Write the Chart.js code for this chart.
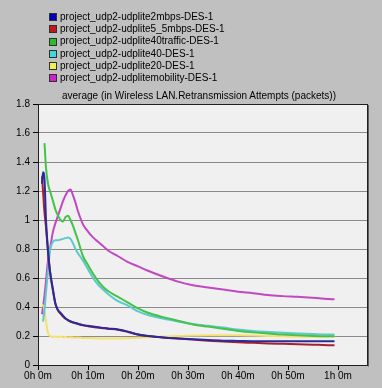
<!DOCTYPE html>
<html lang="en">
<head>
    <meta charset="UTF-8">
    <title>Retransmission Attempts</title>
    <script src="https://cdn.jsdelivr.net/npm/chart.js@4"></script>
    <style>
        body {
            margin: 0;
            background: #c0c0c0;
            font-family: "Liberation Sans", Arial, sans-serif;
        }

        .wrap {
            position: relative;
            width: 382px;
            height: 388px;
        }

        canvas {
            position: absolute;
            left: 0;
            top: 0;
        }

        .legend {
            position: absolute;
            left: 49px;
            top: 11px;
            font-size: 10px;
            line-height: 12.2px;
            color: #000;
        }

        .legend-item {
            display: flex;
            align-items: center;
            white-space: nowrap;
        }

        .legend-item i {
            display: inline-block;
            width: 6px;
            height: 6px;
            border: 1px solid #303030;
            margin-right: 3px;
        }

        .title {
            position: absolute;
            left: 0;
            width: 398px;
            top: 90px;
            text-align: center;
            font-size: 10px;
            color: #000;
        }
    </style>
</head>
<body>
    <div class="wrap">
        <canvas id="chart" width="382" height="388"></canvas>
        <div class="legend" id="legend"></div>
        <div class="title">average (in Wireless LAN.Retransmission Attempts (packets))</div>
    </div>

    <script>
        // time in minutes
        const times = [0.8, 1.0, 1.3, 1.6, 2.0, 2.4, 3.0, 3.5, 4.0, 4.5, 5.0, 5.5, 6.0, 6.5, 7.0, 7.5, 8.0, 9, 10, 11,
                       12, 13, 14, 16, 18, 20, 22, 25, 28, 31, 34, 37, 40, 43, 46, 49, 52, 55, 58, 59.3];

        const names = [
            'project_udp2-udplite2mbps-DES-1',
            'project_udp2-udplite5_5mbps-DES-1',
            'project_udp2-udplite40traffic-DES-1',
            'project_udp2-udplite40-DES-1',
            'project_udp2-udplite20-DES-1',
            'project_udp2-udplitemobility-DES-1'
        ];

        const udp2mbps = [1.25, 1.33, 1.28, 1.0, 0.79, 0.65, 0.52, 0.42, 0.38, 0.36, 0.34, 0.32, 0.31, 0.30, 0.295, 0.29, 0.285, 0.275, 0.27, 0.265,
                          0.26, 0.256, 0.252, 0.245, 0.23, 0.21, 0.2, 0.19, 0.183, 0.177, 0.172, 0.168, 0.166, 0.164, 0.163, 0.163, 0.163, 0.163, 0.163, 0.163];
        const udp5mbps = [1.3, 1.2, 1.05, 0.95, 0.78, 0.64, 0.51, 0.42, 0.375, 0.355, 0.335, 0.32, 0.31, 0.30, 0.293, 0.288, 0.283, 0.274, 0.268, 0.262,
                          0.258, 0.254, 0.25, 0.243, 0.228, 0.21, 0.2, 0.19, 0.182, 0.175, 0.168, 0.162, 0.157, 0.153, 0.149, 0.146, 0.143, 0.14, 0.137, 0.136];
        const udp40traffic = [null, null, 1.53, 1.36, 1.25, 1.2, 1.13, 1.07, 1.03, 1.0, 0.99, 1.02, 1.03, 1.0, 0.96, 0.91, 0.86, 0.75, 0.69, 0.63,
                              0.58, 0.54, 0.51, 0.47, 0.43, 0.39, 0.36, 0.33, 0.305, 0.28, 0.265, 0.25, 0.235, 0.225, 0.218, 0.21, 0.205, 0.2, 0.198, 0.198];
        const udp40 = [null, 0.3, 0.38, 0.5, 0.65, 0.79, 0.85, 0.86, 0.86, 0.865, 0.87, 0.875, 0.88, 0.87, 0.84, 0.8, 0.77, 0.72, 0.66, 0.6,
                       0.555, 0.52, 0.49, 0.44, 0.41, 0.37, 0.345, 0.32, 0.3, 0.283, 0.27, 0.258, 0.245, 0.235, 0.228, 0.222, 0.217, 0.213, 0.21, 0.21];
        const udp20 = [0.42, 0.41, 0.38, 0.3, 0.22, 0.2, 0.195, 0.197, 0.193, 0.196, 0.192, 0.195, 0.19, 0.192, 0.19, 0.188, 0.19, 0.187, 0.186, 0.185,
                       0.184, 0.183, 0.183, 0.182, 0.185, 0.188, 0.192, 0.196, 0.2, 0.203, 0.205, 0.205, 0.205, 0.203, 0.2, 0.198, 0.196, 0.195, 0.194, 0.194];
        const udpMobility = [0.35, 0.4, 0.48, 0.58, 0.72, 0.8, 0.92, 0.98, 1.03, 1.08, 1.13, 1.17, 1.2, 1.21, 1.17, 1.12, 1.06, 0.97, 0.92, 0.88,
                             0.85, 0.82, 0.79, 0.75, 0.71, 0.68, 0.65, 0.61, 0.575, 0.55, 0.535, 0.52, 0.505, 0.495, 0.482, 0.475, 0.47, 0.463, 0.455, 0.453];

        const lineColors = ['#2a2a9a', '#a82030', '#45c24a', '#5ccaca', '#f2e070', '#c048c0'];
        const boxColors = ['#0000b8', '#c01818', '#28c028', '#40d8d8', '#f0f050', '#d020d0'];

        const yTicks = [0, 0.2, 0.4, 0.6, 0.8, 1, 1.2, 1.4, 1.6, 1.8];
        const xTicks = [0, 10, 20, 30, 40, 50, 60];

        const series = [udp2mbps, udp5mbps, udp40traffic, udp40, udp20, udpMobility];

        // html legend
        const legend = document.getElementById('legend');
        names.forEach(function(n, i) {
            const row = document.createElement('div');
            row.className = 'legend-item';
            row.innerHTML = '<i style="background:' + boxColors[i] + '"></i>' + n;
            legend.appendChild(row);
        });

        // plot background + frame
        const frame = {
            id: 'frame',
            beforeDraw(chart) {
                const a = chart.chartArea, c = chart.ctx;
                c.save();
                c.fillStyle = '#f0f0f0';
                c.fillRect(a.left, a.top, a.right - a.left, a.bottom - a.top);
                c.restore();
            },
            afterDraw(chart) {
                const a = chart.chartArea, c = chart.ctx;
                c.save();
                c.strokeStyle = '#202020';
                c.lineWidth = 1;
                c.strokeRect(a.left + 0.5, a.top + 0.5, a.right - a.left, a.bottom - a.top);
                c.strokeStyle = '#606060';
                c.beginPath();
                c.moveTo(a.right + 1.5, a.top + 1);
                c.lineTo(a.right + 1.5, a.bottom + 1.5);
                c.stroke();
                c.restore();
            }
        };

        const font = { family: '"Liberation Sans", Arial, sans-serif', size: 10 };

        new Chart(document.getElementById('chart'), {
            type: 'line',
            data: {
                datasets: series.map(function(vals, i) {
                    return {
                        label: names[i],
                        data: times.map(function(t, j) { return { x: t, y: vals[j] }; }),
                        borderColor: lineColors[i],
                        borderWidth: 2,
                        pointRadius: 0,
                        cubicInterpolationMode: 'monotone',
                        spanGaps: false
                    };
                })
            },
            options: {
                responsive: false,
                animation: false,
                layout: { padding: { left: 0, top: 104, right: 15, bottom: 0 } },
                plugins: {
                    legend: { display: false },
                    tooltip: { enabled: false }
                },
                scales: {
                    x: {
                        type: 'linear',
                        min: 0,
                        max: 65.8,
                        afterBuildTicks: function(s) { s.ticks = xTicks.map(function(v) { return { value: v }; }); },
                        afterFit: function(s) { s.height = 23; },
                        border: { display: false },
                        grid: { drawOnChartArea: false, drawTicks: true, tickLength: 5, tickColor: '#000' },
                        ticks: {
                            color: '#000',
                            font: font,
                            padding: 0,
                            maxRotation: 0,
                            callback: function(v) { return Math.floor(v / 60) + 'h ' + (v % 60) + 'm'; }
                        }
                    },
                    y: {
                        min: 0,
                        max: 1.8,
                        afterBuildTicks: function(s) { s.ticks = yTicks.map(function(v) { return { value: v }; }); },
                        afterFit: function(s) { s.width = 38; },
                        border: { display: false },
                        grid: { color: '#8a8a8a', lineWidth: 1, drawTicks: true, tickLength: 5, tickColor: '#000' },
                        ticks: {
                            color: '#000',
                            font: font,
                            padding: 3,
                            callback: function(v) { return String(Math.round(v * 10) / 10); }
                        }
                    }
                }
            },
            plugins: [frame]
        });
    </script>
</body>
</html>
